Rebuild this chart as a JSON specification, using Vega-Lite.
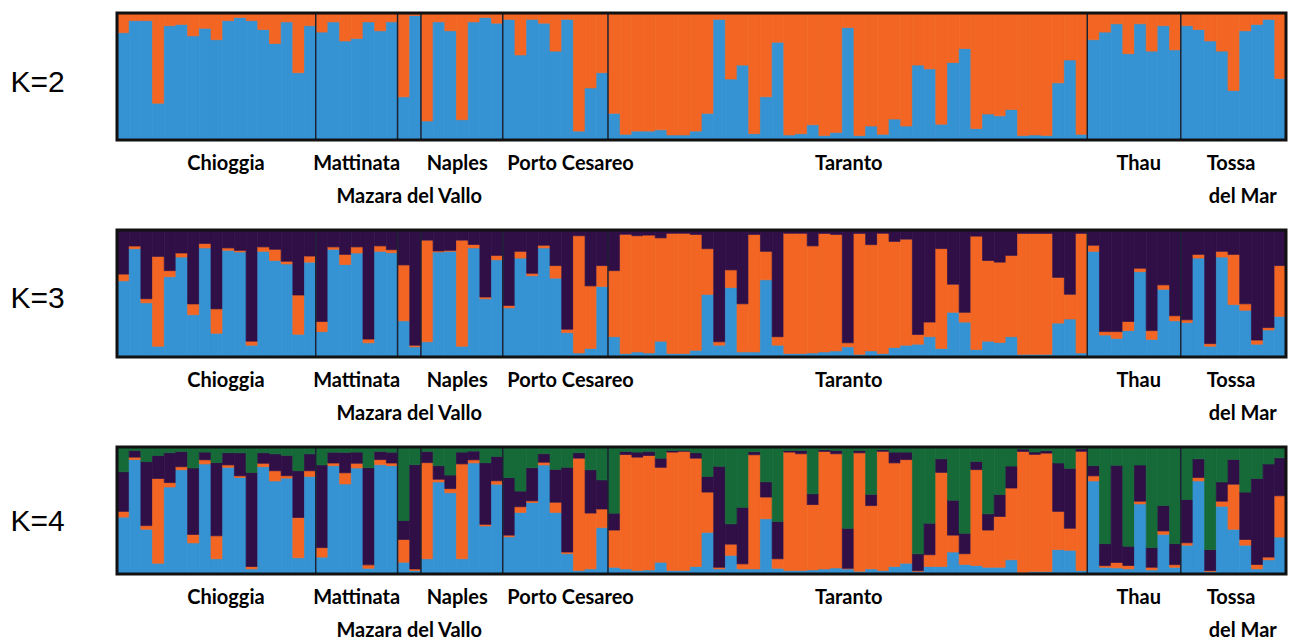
{
"$schema":"https://vega.github.io/schema/vega-lite/v6.json",
"padding":{"left":10,"top":11,"right":0,"bottom":0},
"background":"white",
"config":{"view":{"stroke":null}},
"datasets":{
"k2":[
{"i":0,"c1":0.845,"c2":0.155},{"i":1,"c1":0.94,"c2":0.06},{"i":2,"c1":0.94,"c2":0.06},{"i":3,"c1":0.29,"c2":0.71},{"i":4,"c1":0.9,"c2":0.1},{"i":5,"c1":0.91,"c2":0.09},{"i":6,"c1":0.82,"c2":0.18},{"i":7,"c1":0.88,"c2":0.12},{"i":8,"c1":0.79,"c2":0.21},{"i":9,"c1":0.94,"c2":0.06},{"i":10,"c1":0.965,"c2":0.035},{"i":11,"c1":0.94,"c2":0.06},{"i":12,"c1":0.87,"c2":0.13},{"i":13,"c1":0.76,"c2":0.24},{"i":14,"c1":0.93,"c2":0.07},{"i":15,"c1":0.53,"c2":0.47},{"i":16,"c1":0.9,"c2":0.1},
{"i":17,"c1":0.85,"c2":0.15},{"i":18,"c1":0.93,"c2":0.07},{"i":19,"c1":0.78,"c2":0.22},{"i":20,"c1":0.8,"c2":0.2},{"i":21,"c1":0.93,"c2":0.07},{"i":22,"c1":0.86,"c2":0.14},{"i":23,"c1":0.93,"c2":0.07},
{"i":24,"c1":0.34,"c2":0.66},{"i":25,"c1":0.98,"c2":0.02},
{"i":26,"c1":0.15,"c2":0.85},{"i":27,"c1":0.93,"c2":0.07},{"i":28,"c1":0.86,"c2":0.14},{"i":29,"c1":0.16,"c2":0.84},{"i":30,"c1":0.93,"c2":0.07},{"i":31,"c1":0.965,"c2":0.035},{"i":32,"c1":0.92,"c2":0.08},
{"i":33,"c1":0.95,"c2":0.05},{"i":34,"c1":0.67,"c2":0.33},{"i":35,"c1":0.95,"c2":0.05},{"i":36,"c1":0.92,"c2":0.08},{"i":37,"c1":0.7,"c2":0.3},{"i":38,"c1":0.95,"c2":0.05},{"i":39,"c1":0.07,"c2":0.93},{"i":40,"c1":0.41,"c2":0.59},{"i":41,"c1":0.53,"c2":0.47},
{"i":42,"c1":0.21,"c2":0.79},{"i":43,"c1":0.045,"c2":0.955},{"i":44,"c1":0.07,"c2":0.93},{"i":45,"c1":0.07,"c2":0.93},{"i":46,"c1":0.08,"c2":0.92},{"i":47,"c1":0.04,"c2":0.96},{"i":48,"c1":0.04,"c2":0.96},{"i":49,"c1":0.07,"c2":0.93},{"i":50,"c1":0.21,"c2":0.79},{"i":51,"c1":0.95,"c2":0.05},{"i":52,"c1":0.48,"c2":0.52},{"i":53,"c1":0.59,"c2":0.41},{"i":54,"c1":0.05,"c2":0.95},{"i":55,"c1":0.34,"c2":0.66},{"i":56,"c1":0.77,"c2":0.23},{"i":57,"c1":0.04,"c2":0.96},{"i":58,"c1":0.05,"c2":0.95},{"i":59,"c1":0.12,"c2":0.88},{"i":60,"c1":0.035,"c2":0.965},{"i":61,"c1":0.06,"c2":0.94},{"i":62,"c1":0.885,"c2":0.115},{"i":63,"c1":0.035,"c2":0.965},{"i":64,"c1":0.11,"c2":0.89},{"i":65,"c1":0.045,"c2":0.955},{"i":66,"c1":0.165,"c2":0.835},{"i":67,"c1":0.11,"c2":0.89},{"i":68,"c1":0.59,"c2":0.41},{"i":69,"c1":0.56,"c2":0.44},{"i":70,"c1":0.125,"c2":0.875},{"i":71,"c1":0.61,"c2":0.39},{"i":72,"c1":0.72,"c2":0.28},{"i":73,"c1":0.09,"c2":0.91},{"i":74,"c1":0.205,"c2":0.795},{"i":75,"c1":0.19,"c2":0.81},{"i":76,"c1":0.24,"c2":0.76},{"i":77,"c1":0.035,"c2":0.965},{"i":78,"c1":0.04,"c2":0.96},{"i":79,"c1":0.035,"c2":0.965},{"i":80,"c1":0.45,"c2":0.55},{"i":81,"c1":0.63,"c2":0.37},{"i":82,"c1":0.045,"c2":0.955},
{"i":83,"c1":0.79,"c2":0.21},{"i":84,"c1":0.85,"c2":0.15},{"i":85,"c1":0.915,"c2":0.085},{"i":86,"c1":0.68,"c2":0.32},{"i":87,"c1":0.915,"c2":0.085},{"i":88,"c1":0.7,"c2":0.3},{"i":89,"c1":0.9,"c2":0.1},{"i":90,"c1":0.71,"c2":0.29},
{"i":91,"c1":0.9,"c2":0.1},{"i":92,"c1":0.87,"c2":0.13},{"i":93,"c1":0.78,"c2":0.22},{"i":94,"c1":0.7,"c2":0.3},{"i":95,"c1":0.39,"c2":0.61},{"i":96,"c1":0.86,"c2":0.14},{"i":97,"c1":0.91,"c2":0.09},{"i":98,"c1":0.95,"c2":0.05},{"i":99,"c1":0.485,"c2":0.515}
],
"k3":[
{"i":0,"c1":0.6,"c2":0.053,"c3":0.347},{"i":1,"c1":0.853,"c2":0.021,"c3":0.126},{"i":2,"c1":0.427,"c2":0.032,"c3":0.541},{"i":3,"c1":0.085,"c2":0.707,"c3":0.208},{"i":4,"c1":0.632,"c2":0.048,"c3":0.32},{"i":5,"c1":0.787,"c2":0.032,"c3":0.181},{"i":6,"c1":0.333,"c2":0.085,"c3":0.582},{"i":7,"c1":0.859,"c2":0.035,"c3":0.106},{"i":8,"c1":0.187,"c2":0.192,"c3":0.621},{"i":9,"c1":0.84,"c2":0.019,"c3":0.141},{"i":10,"c1":0.827,"c2":0.013,"c3":0.16},{"i":11,"c1":0.093,"c2":0.032,"c3":0.875},{"i":12,"c1":0.832,"c2":0.035,"c3":0.133},{"i":13,"c1":0.76,"c2":0.088,"c3":0.152},{"i":14,"c1":0.733,"c2":0.021,"c3":0.246},{"i":15,"c1":0.179,"c2":0.309,"c3":0.512},{"i":16,"c1":0.747,"c2":0.048,"c3":0.205},
{"i":17,"c1":0.2,"c2":0.08,"c3":0.72},{"i":18,"c1":0.848,"c2":0.019,"c3":0.133},{"i":19,"c1":0.728,"c2":0.08,"c3":0.192},{"i":20,"c1":0.819,"c2":0.048,"c3":0.133},{"i":21,"c1":0.112,"c2":0.029,"c3":0.859},{"i":22,"c1":0.832,"c2":0.043,"c3":0.125},{"i":23,"c1":0.821,"c2":0.024,"c3":0.155},
{"i":24,"c1":0.285,"c2":0.44,"c3":0.275},{"i":25,"c1":0.08,"c2":0.013,"c3":0.907},
{"i":26,"c1":0.12,"c2":0.8,"c3":0.08},{"i":27,"c1":0.827,"c2":0.008,"c3":0.165},{"i":28,"c1":0.832,"c2":0.008,"c3":0.16},{"i":29,"c1":0.085,"c2":0.835,"c3":0.08},{"i":30,"c1":0.859,"c2":0.027,"c3":0.114},{"i":31,"c1":0.459,"c2":0.013,"c3":0.528},{"i":32,"c1":0.765,"c2":0.035,"c3":0.2},
{"i":33,"c1":0.387,"c2":0.019,"c3":0.594},{"i":34,"c1":0.779,"c2":0.053,"c3":0.168},{"i":35,"c1":0.64,"c2":0.019,"c3":0.341},{"i":36,"c1":0.859,"c2":0.021,"c3":0.12},{"i":37,"c1":0.621,"c2":0.099,"c3":0.28},{"i":38,"c1":0.192,"c2":0.027,"c3":0.781},{"i":39,"c1":0.032,"c2":0.923,"c3":0.045},{"i":40,"c1":0.067,"c2":0.493,"c3":0.44},{"i":41,"c1":0.555,"c2":0.165,"c3":0.28},
{"i":42,"c1":0.16,"c2":0.52,"c3":0.32},{"i":43,"c1":0.027,"c2":0.939,"c3":0.034},{"i":44,"c1":0.04,"c2":0.915,"c3":0.045},{"i":45,"c1":0.032,"c2":0.928,"c3":0.04},{"i":46,"c1":0.125,"c2":0.813,"c3":0.062},{"i":47,"c1":0.027,"c2":0.947,"c3":0.026},{"i":48,"c1":0.027,"c2":0.947,"c3":0.026},{"i":49,"c1":0.053,"c2":0.912,"c3":0.035},{"i":50,"c1":0.493,"c2":0.36,"c3":0.147},{"i":51,"c1":0.093,"c2":0.027,"c3":0.88},{"i":52,"c1":0.547,"c2":0.139,"c3":0.314},{"i":53,"c1":0.04,"c2":0.379,"c3":0.581},{"i":54,"c1":0.04,"c2":0.925,"c3":0.035},{"i":55,"c1":0.608,"c2":0.224,"c3":0.168},{"i":56,"c1":0.093,"c2":0.067,"c3":0.84},{"i":57,"c1":0.027,"c2":0.947,"c3":0.026},{"i":58,"c1":0.027,"c2":0.947,"c3":0.026},{"i":59,"c1":0.032,"c2":0.843,"c3":0.125},{"i":60,"c1":0.04,"c2":0.933,"c3":0.027},{"i":61,"c1":0.048,"c2":0.917,"c3":0.035},{"i":62,"c1":0.08,"c2":0.032,"c3":0.888},{"i":63,"c1":0.021,"c2":0.952,"c3":0.027},{"i":64,"c1":0.048,"c2":0.837,"c3":0.115},{"i":65,"c1":0.027,"c2":0.947,"c3":0.026},{"i":66,"c1":0.075,"c2":0.835,"c3":0.09},{"i":67,"c1":0.093,"c2":0.835,"c3":0.072},{"i":68,"c1":0.101,"c2":0.077,"c3":0.822},{"i":69,"c1":0.16,"c2":0.115,"c3":0.725},{"i":70,"c1":0.067,"c2":0.787,"c3":0.146},{"i":71,"c1":0.352,"c2":0.221,"c3":0.427},{"i":72,"c1":0.275,"c2":0.077,"c3":0.648},{"i":73,"c1":0.059,"c2":0.893,"c3":0.048},{"i":74,"c1":0.125,"c2":0.635,"c3":0.24},{"i":75,"c1":0.115,"c2":0.632,"c3":0.253},{"i":76,"c1":0.16,"c2":0.64,"c3":0.2},{"i":77,"c1":0.021,"c2":0.952,"c3":0.027},{"i":78,"c1":0.021,"c2":0.952,"c3":0.027},{"i":79,"c1":0.021,"c2":0.952,"c3":0.027},{"i":80,"c1":0.267,"c2":0.36,"c3":0.373},{"i":81,"c1":0.299,"c2":0.195,"c3":0.506},{"i":82,"c1":0.032,"c2":0.941,"c3":0.027},
{"i":83,"c1":0.832,"c2":0.048,"c3":0.12},{"i":84,"c1":0.173,"c2":0.027,"c3":0.8},{"i":85,"c1":0.147,"c2":0.053,"c3":0.8},{"i":86,"c1":0.208,"c2":0.072,"c3":0.72},{"i":87,"c1":0.672,"c2":0.027,"c3":0.301},{"i":88,"c1":0.139,"c2":0.069,"c3":0.792},{"i":89,"c1":0.533,"c2":0.035,"c3":0.432},{"i":90,"c1":0.285,"c2":0.04,"c3":0.675},
{"i":91,"c1":0.272,"c2":0.021,"c3":0.707},{"i":92,"c1":0.779,"c2":0.029,"c3":0.192},{"i":93,"c1":0.085,"c2":0.021,"c3":0.894},{"i":94,"c1":0.787,"c2":0.045,"c3":0.168},{"i":95,"c1":0.413,"c2":0.395,"c3":0.192},{"i":96,"c1":0.368,"c2":0.051,"c3":0.581},{"i":97,"c1":0.101,"c2":0.032,"c3":0.867},{"i":98,"c1":0.213,"c2":0.019,"c3":0.768},{"i":99,"c1":0.32,"c2":0.4,"c3":0.28}
],
"k4":[
{"i":0,"c1":0.448,"c2":0.045,"c3":0.312,"c4":0.195},{"i":1,"c1":0.901,"c2":0.019,"c3":0.053,"c4":0.027},{"i":2,"c1":0.352,"c2":0.029,"c3":0.504,"c4":0.115},{"i":3,"c1":0.085,"c2":0.667,"c3":0.181,"c4":0.067},{"i":4,"c1":0.685,"c2":0.035,"c3":0.235,"c4":0.045},{"i":5,"c1":0.821,"c2":0.024,"c3":0.12,"c4":0.035},{"i":6,"c1":0.245,"c2":0.067,"c3":0.523,"c4":0.165},{"i":7,"c1":0.867,"c2":0.032,"c3":0.061,"c4":0.04},{"i":8,"c1":0.12,"c2":0.181,"c3":0.576,"c4":0.123},{"i":9,"c1":0.84,"c2":0.019,"c3":0.096,"c4":0.045},{"i":10,"c1":0.76,"c2":0.013,"c3":0.181,"c4":0.046},{"i":11,"c1":0.04,"c2":0.019,"c3":0.741,"c4":0.2},{"i":12,"c1":0.845,"c2":0.027,"c3":0.083,"c4":0.045},{"i":13,"c1":0.733,"c2":0.08,"c3":0.133,"c4":0.054},{"i":14,"c1":0.755,"c2":0.019,"c3":0.16,"c4":0.066},{"i":15,"c1":0.128,"c2":0.317,"c3":0.368,"c4":0.187},{"i":16,"c1":0.768,"c2":0.045,"c3":0.133,"c4":0.054},
{"i":17,"c1":0.133,"c2":0.075,"c3":0.651,"c4":0.141},{"i":18,"c1":0.853,"c2":0.021,"c3":0.085,"c4":0.041},{"i":19,"c1":0.709,"c2":0.088,"c3":0.16,"c4":0.043},{"i":20,"c1":0.835,"c2":0.037,"c3":0.088,"c4":0.04},{"i":21,"c1":0.045,"c2":0.027,"c3":0.765,"c4":0.163},{"i":22,"c1":0.861,"c2":0.04,"c3":0.064,"c4":0.035},{"i":23,"c1":0.853,"c2":0.021,"c3":0.085,"c4":0.041},
{"i":24,"c1":0.093,"c2":0.179,"c3":0.149,"c4":0.579},{"i":25,"c1":0.027,"c2":0.013,"c3":0.821,"c4":0.139},
{"i":26,"c1":0.12,"c2":0.757,"c3":0.088,"c4":0.035},{"i":27,"c1":0.725,"c2":0.021,"c3":0.107,"c4":0.147},{"i":28,"c1":0.64,"c2":0.032,"c3":0.107,"c4":0.221},{"i":29,"c1":0.12,"c2":0.747,"c3":0.093,"c4":0.04},{"i":30,"c1":0.875,"c2":0.024,"c3":0.069,"c4":0.032},{"i":31,"c1":0.378,"c2":0.013,"c3":0.485,"c4":0.124},{"i":32,"c1":0.707,"c2":0.027,"c3":0.192,"c4":0.074},
{"i":33,"c1":0.293,"c2":0.013,"c3":0.453,"c4":0.241},{"i":34,"c1":0.485,"c2":0.045,"c3":0.123,"c4":0.347},{"i":35,"c1":0.563,"c2":0.013,"c3":0.261,"c4":0.163},{"i":36,"c1":0.859,"c2":0.021,"c3":0.067,"c4":0.053},{"i":37,"c1":0.485,"c2":0.08,"c3":0.259,"c4":0.176},{"i":38,"c1":0.16,"c2":0.013,"c3":0.667,"c4":0.16},{"i":39,"c1":0.027,"c2":0.885,"c3":0.043,"c4":0.045},{"i":40,"c1":0.04,"c2":0.44,"c3":0.341,"c4":0.179},{"i":41,"c1":0.365,"c2":0.147,"c3":0.229,"c4":0.259},
{"i":42,"c1":0.053,"c2":0.293,"c3":0.133,"c4":0.521},{"i":43,"c1":0.04,"c2":0.901,"c3":0.024,"c4":0.035},{"i":44,"c1":0.027,"c2":0.893,"c3":0.04,"c4":0.04},{"i":45,"c1":0.032,"c2":0.901,"c3":0.032,"c4":0.035},{"i":46,"c1":0.093,"c2":0.747,"c3":0.072,"c4":0.088},{"i":47,"c1":0.027,"c2":0.933,"c3":0.013,"c4":0.027},{"i":48,"c1":0.027,"c2":0.939,"c3":0.008,"c4":0.026},{"i":49,"c1":0.059,"c2":0.853,"c3":0.043,"c4":0.045},{"i":50,"c1":0.328,"c2":0.317,"c3":0.123,"c4":0.232},{"i":51,"c1":0.04,"c2":0.013,"c3":0.795,"c4":0.152},{"i":52,"c1":0.147,"c2":0.088,"c3":0.16,"c4":0.605},{"i":53,"c1":0.04,"c2":0.04,"c3":0.445,"c4":0.475},{"i":54,"c1":0.04,"c2":0.899,"c3":0.024,"c4":0.037},{"i":55,"c1":0.435,"c2":0.171,"c3":0.12,"c4":0.274},{"i":56,"c1":0.045,"c2":0.075,"c3":0.293,"c4":0.587},{"i":57,"c1":0.027,"c2":0.933,"c3":0.013,"c4":0.027},{"i":58,"c1":0.027,"c2":0.92,"c3":0.026,"c4":0.027},{"i":59,"c1":0.032,"c2":0.515,"c3":0.085,"c4":0.368},{"i":60,"c1":0.04,"c2":0.925,"c3":0.013,"c4":0.022},{"i":61,"c1":0.048,"c2":0.899,"c3":0.026,"c4":0.027},{"i":62,"c1":0.04,"c2":0.005,"c3":0.315,"c4":0.64},{"i":63,"c1":0.021,"c2":0.933,"c3":0.019,"c4":0.027},{"i":64,"c1":0.04,"c2":0.499,"c3":0.088,"c4":0.373},{"i":65,"c1":0.027,"c2":0.939,"c3":0.013,"c4":0.021},{"i":66,"c1":0.059,"c2":0.816,"c3":0.085,"c4":0.04},{"i":67,"c1":0.085,"c2":0.816,"c3":0.059,"c4":0.04},{"i":68,"c1":0.021,"c2":0.005,"c3":0.133,"c4":0.841},{"i":69,"c1":0.059,"c2":0.093,"c3":0.248,"c4":0.6},{"i":70,"c1":0.059,"c2":0.741,"c3":0.107,"c4":0.093},{"i":71,"c1":0.173,"c2":0.133,"c3":0.275,"c4":0.419},{"i":72,"c1":0.075,"c2":0.085,"c3":0.16,"c4":0.68},{"i":73,"c1":0.067,"c2":0.755,"c3":0.064,"c4":0.114},{"i":74,"c1":0.053,"c2":0.293,"c3":0.128,"c4":0.526},{"i":75,"c1":0.053,"c2":0.4,"c3":0.173,"c4":0.374},{"i":76,"c1":0.112,"c2":0.565,"c3":0.173,"c4":0.15},{"i":77,"c1":0.013,"c2":0.952,"c3":0.019,"c4":0.016},{"i":78,"c1":0.019,"c2":0.923,"c3":0.019,"c4":0.039},{"i":79,"c1":0.019,"c2":0.933,"c3":0.019,"c4":0.029},{"i":80,"c1":0.192,"c2":0.301,"c3":0.381,"c4":0.126},{"i":81,"c1":0.187,"c2":0.173,"c3":0.472,"c4":0.168},{"i":82,"c1":0.027,"c2":0.939,"c3":0.021,"c4":0.013},
{"i":83,"c1":0.733,"c2":0.04,"c3":0.08,"c4":0.147},{"i":84,"c1":0.053,"c2":0.013,"c3":0.173,"c4":0.761},{"i":85,"c1":0.048,"c2":0.043,"c3":0.765,"c4":0.144},{"i":86,"c1":0.04,"c2":0.027,"c3":0.152,"c4":0.781},{"i":87,"c1":0.552,"c2":0.021,"c3":0.285,"c4":0.142},{"i":88,"c1":0.032,"c2":0.021,"c3":0.155,"c4":0.792},{"i":89,"c1":0.312,"c2":0.027,"c3":0.2,"c4":0.461},{"i":90,"c1":0.053,"c2":0.021,"c3":0.165,"c4":0.761},
{"i":91,"c1":0.227,"c2":0.019,"c3":0.341,"c4":0.413},{"i":92,"c1":0.733,"c2":0.027,"c3":0.147,"c4":0.093},{"i":93,"c1":0.019,"c2":0.008,"c3":0.165,"c4":0.808},{"i":94,"c1":0.533,"c2":0.04,"c3":0.152,"c4":0.275},{"i":95,"c1":0.352,"c2":0.355,"c3":0.195,"c4":0.098},{"i":96,"c1":0.227,"c2":0.045,"c3":0.373,"c4":0.355},{"i":97,"c1":0.04,"c2":0.035,"c3":0.677,"c4":0.248},{"i":98,"c1":0.112,"c2":0.021,"c3":0.733,"c4":0.134},{"i":99,"c1":0.291,"c2":0.325,"c3":0.299,"c4":0.085}
],
"bnd":[{"b":17},{"b":24},{"b":26},{"b":33},{"b":42},{"b":83},{"b":91}],
"lab":[
{"t":"Chioggia","x":9.32,"ln":1},{"t":"Mattinata","x":20.5,"ln":1},{"t":"Naples","x":29.1,"ln":1},{"t":"Porto Cesareo","x":38.8,"ln":1},{"t":"Taranto","x":62.6,"ln":1},{"t":"Thau","x":87.4,"ln":1},{"t":"Tossa","x":95.3,"ln":1},{"t":"Mazara del Vallo","x":25.0,"ln":2},{"t":"del Mar","x":96.3,"ln":2}
]
},
"vconcat":[
{"width":1169,"height":127,
"layer":[
{"data":{"name":"k2"},"transform":[{"fold":["c1","c2"],"as":["cl","v"]}],
"mark":{"type":"bar","binSpacing":0,"clip":true,"strokeWidth":0.7},
"encoding":{
"x":{"field":"i","type":"quantitative","bin":{"step":1,"extent":[0,100]},"scale":{"domain":[0,100],"nice":false,"zero":false},"axis":null},
"y":{"field":"v","type":"quantitative","stack":"zero","scale":{"domain":[0,1],"nice":false},"title":"K=2","axis":{"titleAngle":0,"titleAlign":"left","titleBaseline":"middle","titleX":-107,"titleY":69,"titleFontSize":30,"titleFontWeight":"normal","titleFont":"Liberation Sans","titleColor":"#000000","labels":false,"ticks":false,"domain":false,"grid":false}},
"color":{"field":"cl","type":"nominal","scale":{"domain":["c1","c2","c3","c4"],"range":["#3592d3","#f26522","#2f0f46","#166a38"]},"legend":null},
"stroke":{"field":"cl","type":"nominal","scale":{"domain":["c1","c2","c3","c4"],"range":["#3592d3","#f26522","#2f0f46","#166a38"]},"legend":null},
"order":{"field":"cl","sort":"ascending"}}},
{"data":{"name":"bnd"},"mark":{"type":"rule","color":"#1a2233","strokeWidth":1.5},"encoding":{"x":{"field":"b","type":"quantitative"}}},
{"data":{"values":[{}]},"mark":{"type":"rect","filled":false,"stroke":"#111111","strokeWidth":3},"encoding":{"x":{"datum":0},"x2":{"datum":100},"y":{"datum":0},"y2":{"datum":1}}},
{"data":{"name":"lab"},"transform":[{"filter":"datum.ln == 1"}],"mark":{"type":"text","font":"Lato","fontWeight":"bold","fontSize":20,"dy":30,"baseline":"alphabetic","color":"#000000"},"encoding":{"x":{"field":"x","type":"quantitative"},"y":{"datum":0},"text":{"field":"t"}}},
{"data":{"name":"lab"},"transform":[{"filter":"datum.ln == 2"}],"mark":{"type":"text","font":"Lato","fontWeight":"bold","fontSize":20,"dy":63,"baseline":"alphabetic","color":"#000000"},"encoding":{"x":{"field":"x","type":"quantitative"},"y":{"datum":0},"text":{"field":"t"}}}
]},
{"width":1169,"height":127,
"layer":[
{"data":{"name":"k3"},"transform":[{"fold":["c1","c2","c3"],"as":["cl","v"]}],
"mark":{"type":"bar","binSpacing":0,"clip":true,"strokeWidth":0.7},
"encoding":{
"x":{"field":"i","type":"quantitative","bin":{"step":1,"extent":[0,100]},"scale":{"domain":[0,100],"nice":false,"zero":false},"axis":null},
"y":{"field":"v","type":"quantitative","stack":"zero","scale":{"domain":[0,1],"nice":false},"title":"K=3","axis":{"titleAngle":0,"titleAlign":"left","titleBaseline":"middle","titleX":-107,"titleY":68,"titleFontSize":30,"titleFontWeight":"normal","titleFont":"Liberation Sans","titleColor":"#000000","labels":false,"ticks":false,"domain":false,"grid":false}},
"color":{"field":"cl","type":"nominal","scale":{"domain":["c1","c2","c3","c4"],"range":["#3592d3","#f26522","#2f0f46","#166a38"]},"legend":null},
"stroke":{"field":"cl","type":"nominal","scale":{"domain":["c1","c2","c3","c4"],"range":["#3592d3","#f26522","#2f0f46","#166a38"]},"legend":null},
"order":{"field":"cl","sort":"ascending"}}},
{"data":{"name":"bnd"},"mark":{"type":"rule","color":"#1a2233","strokeWidth":1.5},"encoding":{"x":{"field":"b","type":"quantitative"}}},
{"data":{"values":[{}]},"mark":{"type":"rect","filled":false,"stroke":"#111111","strokeWidth":3},"encoding":{"x":{"datum":0},"x2":{"datum":100},"y":{"datum":0},"y2":{"datum":1}}},
{"data":{"name":"lab"},"transform":[{"filter":"datum.ln == 1"}],"mark":{"type":"text","font":"Lato","fontWeight":"bold","fontSize":20,"dy":30,"baseline":"alphabetic","color":"#000000"},"encoding":{"x":{"field":"x","type":"quantitative"},"y":{"datum":0},"text":{"field":"t"}}},
{"data":{"name":"lab"},"transform":[{"filter":"datum.ln == 2"}],"mark":{"type":"text","font":"Lato","fontWeight":"bold","fontSize":20,"dy":63,"baseline":"alphabetic","color":"#000000"},"encoding":{"x":{"field":"x","type":"quantitative"},"y":{"datum":0},"text":{"field":"t"}}}
]},
{"width":1169,"height":127,
"layer":[
{"data":{"name":"k4"},"transform":[{"fold":["c1","c2","c3","c4"],"as":["cl","v"]}],
"mark":{"type":"bar","binSpacing":0,"clip":true,"strokeWidth":0.7},
"encoding":{
"x":{"field":"i","type":"quantitative","bin":{"step":1,"extent":[0,100]},"scale":{"domain":[0,100],"nice":false,"zero":false},"axis":null},
"y":{"field":"v","type":"quantitative","stack":"zero","scale":{"domain":[0,1],"nice":false},"title":"K=4","axis":{"titleAngle":0,"titleAlign":"left","titleBaseline":"middle","titleX":-107,"titleY":74,"titleFontSize":30,"titleFontWeight":"normal","titleFont":"Liberation Sans","titleColor":"#000000","labels":false,"ticks":false,"domain":false,"grid":false}},
"color":{"field":"cl","type":"nominal","scale":{"domain":["c1","c2","c3","c4"],"range":["#3592d3","#f26522","#2f0f46","#166a38"]},"legend":null},
"stroke":{"field":"cl","type":"nominal","scale":{"domain":["c1","c2","c3","c4"],"range":["#3592d3","#f26522","#2f0f46","#166a38"]},"legend":null},
"order":{"field":"cl","sort":"ascending"}}},
{"data":{"name":"bnd"},"mark":{"type":"rule","color":"#1a2233","strokeWidth":1.5},"encoding":{"x":{"field":"b","type":"quantitative"}}},
{"data":{"values":[{}]},"mark":{"type":"rect","filled":false,"stroke":"#111111","strokeWidth":3},"encoding":{"x":{"datum":0},"x2":{"datum":100},"y":{"datum":0},"y2":{"datum":1}}},
{"data":{"name":"lab"},"transform":[{"filter":"datum.ln == 1"}],"mark":{"type":"text","font":"Lato","fontWeight":"bold","fontSize":20,"dy":30,"baseline":"alphabetic","color":"#000000"},"encoding":{"x":{"field":"x","type":"quantitative"},"y":{"datum":0},"text":{"field":"t"}}},
{"data":{"name":"lab"},"transform":[{"filter":"datum.ln == 2"}],"mark":{"type":"text","font":"Lato","fontWeight":"bold","fontSize":20,"dy":63,"baseline":"alphabetic","color":"#000000"},"encoding":{"x":{"field":"x","type":"quantitative"},"y":{"datum":0},"text":{"field":"t"}}}
]}
],
"spacing":90,
"bounds":"flush"
}
